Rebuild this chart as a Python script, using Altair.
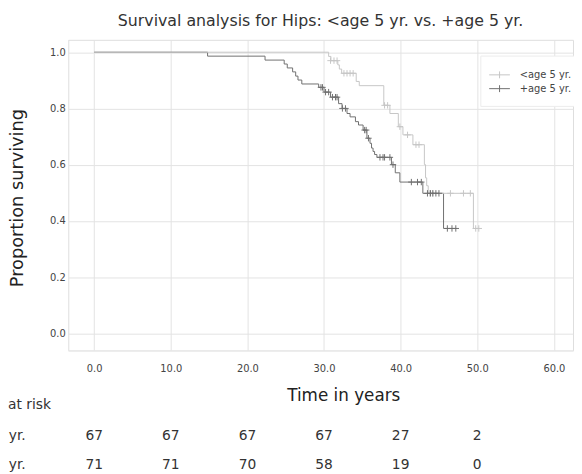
import altair as alt
import pandas as pd

groups = ["<age 5 yr.", "+age 5 yr."]
colors = ["#c6c6c6", "#707070"]

# Kaplan-Meier steps (time in years, proportion surviving)
young_t = [0, 30.6, 30.9, 31.8, 32.0, 32.3, 34.2, 34.6, 37.8, 38.6, 39.7, 40.3,
           41.6, 43.1, 43.25, 43.4, 43.6, 49.5, 50.3]
young_s = [1.0, 0.985, 0.970, 0.955, 0.940, 0.925, 0.896, 0.881, 0.811, 0.782, 0.735, 0.706,
           0.671, 0.600, 0.553, 0.525, 0.498, 0.373, 0.373]
old_t = [0, 14.8, 22.3, 24.8, 25.2, 25.9, 26.3, 26.6, 27.1, 29.3, 30.0, 30.85, 31.9,
         32.35, 33.0, 33.4, 34.1, 34.5, 35.1, 35.6, 36.0, 36.2, 36.4, 36.6, 36.9,
         38.8, 39.3, 39.9, 42.9, 45.6, 47.3]
old_s = [1.0, 0.986, 0.972, 0.958, 0.944, 0.930, 0.915, 0.901, 0.887, 0.875, 0.858, 0.840, 0.817,
         0.800, 0.782, 0.770, 0.753, 0.741, 0.723, 0.694, 0.676, 0.659, 0.647, 0.636, 0.626,
         0.600, 0.571, 0.538, 0.498, 0.373, 0.373]

# censored observations
young_cens_t = [30.85, 31.3, 31.7, 32.6, 33.0, 33.4, 33.8, 37.9, 38.3, 39.9, 40.9, 42.0, 42.4,
                43.8, 44.2, 46.5, 48.2, 49.1, 49.8, 50.2]
young_cens_s = [0.970, 0.970, 0.970, 0.925, 0.925, 0.925, 0.925, 0.811, 0.811, 0.735, 0.706, 0.671, 0.671,
                0.498, 0.498, 0.498, 0.498, 0.498, 0.373, 0.373]
old_cens_t = [29.6, 29.8, 30.2, 30.6, 31.1, 31.5, 31.7, 32.4, 32.8, 35.3, 35.5, 35.8, 37.3, 37.7,
              37.9, 38.6, 39.0, 41.4, 42.2, 42.7, 43.5, 43.9, 44.2, 44.6, 45.0, 46.1, 46.7, 47.2]
old_cens_s = [0.875, 0.875, 0.858, 0.858, 0.840, 0.840, 0.840, 0.800, 0.800, 0.723, 0.723, 0.694, 0.626, 0.626,
              0.626, 0.626, 0.600, 0.538, 0.538, 0.538, 0.498, 0.498, 0.498, 0.498, 0.498, 0.373, 0.373, 0.373]

# numbers at risk
risk_times = [0, 10, 20, 30, 40, 50]
risk_young = [67, 67, 67, 67, 27, 2]
risk_old = [71, 71, 70, 58, 19, 0]

x_ticks = [0, 10, 20, 30, 40, 50, 60]
y_ticks = [0.0, 0.2, 0.4, 0.6, 0.8, 1.0]

steps = pd.concat([
    pd.DataFrame({"t": young_t, "s": young_s, "group": groups[0]}),
    pd.DataFrame({"t": old_t, "s": old_s, "group": groups[1]}),
])
cens = pd.concat([
    pd.DataFrame({"t": young_cens_t, "s": young_cens_s, "group": groups[0]}),
    pd.DataFrame({"t": old_cens_t, "s": old_cens_s, "group": groups[1]}),
])
risk = pd.concat([
    pd.DataFrame({"t": risk_times, "n": risk_young, "group": groups[0]}),
    pd.DataFrame({"t": risk_times, "n": risk_old, "group": groups[1]}),
])
labels = pd.DataFrame({"label": groups})

FONT = "DejaVu Sans"
CROSS = "M-1,0H1M0,-1V1"
LEG_SYM = "M-1.5,0H1.5M0,-0.5V0.5"

legend = alt.Legend(
    title=None, orient="none", legendX=418, legendY=16, padding=12,
    fillColor="white", strokeColor="#ececec",
    symbolType=LEG_SYM, symbolSize=196, symbolStrokeWidth=1,
    symbolFillColor="transparent",
    labelFont=FONT, labelFontSize=10, labelColor="#444", labelOffset=13,
    rowPadding=1,
)
color = alt.Color("group:N", scale=alt.Scale(domain=groups, range=colors), legend=legend)

x_enc = alt.X(
    "t:Q",
    scale=alt.Scale(domain=[-3.4, 62.5], nice=False, zero=False),
    axis=alt.Axis(values=x_ticks, format=".1f", title="Time in years",
                  titleX=279, titleY=46, titleBaseline="middle", titleAlign="center",
                  titleFontSize=17, titleFont=FONT, titleFontWeight="normal", titleColor="#222",
                  labelPadding=13, labelFontSize=10, labelFont=FONT, labelColor="#444",
                  ticks=False, tickSize=0, grid=True, gridColor="#e3e3e3",
                  domainColor="#e8e8e8"),
)
y_enc = alt.Y(
    "s:Q",
    scale=alt.Scale(domain=[-0.061, 1.044], nice=False, zero=False),
    axis=alt.Axis(values=y_ticks, format=".1f", title="Proportion surviving",
                  titleX=-51, titleY=160, titleAngle=270, titleBaseline="middle", titleAlign="center",
                  titleFontSize=18, titleFont=FONT, titleFontWeight="normal", titleColor="#222",
                  labelPadding=3, labelFontSize=10, labelFont=FONT, labelColor="#444",
                  ticks=False, tickSize=0, grid=True, gridColor="#e3e3e3",
                  domainColor="#e8e8e8"),
)

base_steps = alt.Chart(steps)
line_old = base_steps.transform_filter(alt.datum.group == groups[1]).mark_line(
    interpolate="step-after", strokeWidth=1).encode(x=x_enc, y=y_enc, color=color)
line_young = base_steps.transform_filter(alt.datum.group == groups[0]).mark_line(
    interpolate="step-after", strokeWidth=1).encode(x=x_enc, y=y_enc, color=color)

base_cens = alt.Chart(cens)
pts_young = base_cens.transform_filter(alt.datum.group == groups[0]).mark_point(
    shape=CROSS, size=42, filled=False, strokeWidth=1, opacity=1).encode(x=x_enc, y=y_enc, color=color)
pts_old = base_cens.transform_filter(alt.datum.group == groups[1]).mark_point(
    shape=CROSS, size=42, filled=False, strokeWidth=1, opacity=1).encode(x=x_enc, y=y_enc, color=color)

base_risk = alt.Chart(risk)
risk_young_txt = base_risk.transform_filter(alt.datum.group == groups[0]).mark_text(
    font=FONT, fontSize=14, color="#333", baseline="middle").encode(
    x=x_enc, y=alt.value(402), text="n:Q")
risk_old_txt = base_risk.transform_filter(alt.datum.group == groups[1]).mark_text(
    font=FONT, fontSize=14, color="#333", baseline="middle").encode(
    x=x_enc, y=alt.value(431), text="n:Q")

lab_young = alt.Chart(labels).transform_filter(alt.datum.label == groups[0]).mark_text(
    font=FONT, fontSize=14, color="#333", align="right", baseline="middle").encode(
    x=alt.value(-43), y=alt.value(402), text="label:N")
lab_old = alt.Chart(labels).transform_filter(alt.datum.label == groups[1]).mark_text(
    font=FONT, fontSize=14, color="#333", align="right", baseline="middle").encode(
    x=alt.value(-43), y=alt.value(431), text="label:N")
at_risk = alt.Chart(pd.DataFrame({"label": ["at risk"]})).mark_text(
    font=FONT, fontSize=14, color="#333", align="left", baseline="middle").encode(
    x=alt.value(-61), y=alt.value(370), text="label:N")

chart = alt.layer(
    line_old, line_young, pts_young, pts_old,
    risk_young_txt, risk_old_txt, lab_young, lab_old, at_risk,
).properties(
    width=512, height=315,
    padding={"left": 61, "top": 29, "right": 1, "bottom": 122},
    autosize="none",
    title=alt.TitleParams("Survival analysis for Hips: <age 5 yr. vs. +age 5 yr.",
                          fontSize=16, font=FONT, fontWeight="normal", color="#333",
                          anchor="middle", offset=11),
).configure_view(strokeWidth=0).configure(background="white")

chart.save("out.html", embed_options={"renderer": "svg", "actions": False})
